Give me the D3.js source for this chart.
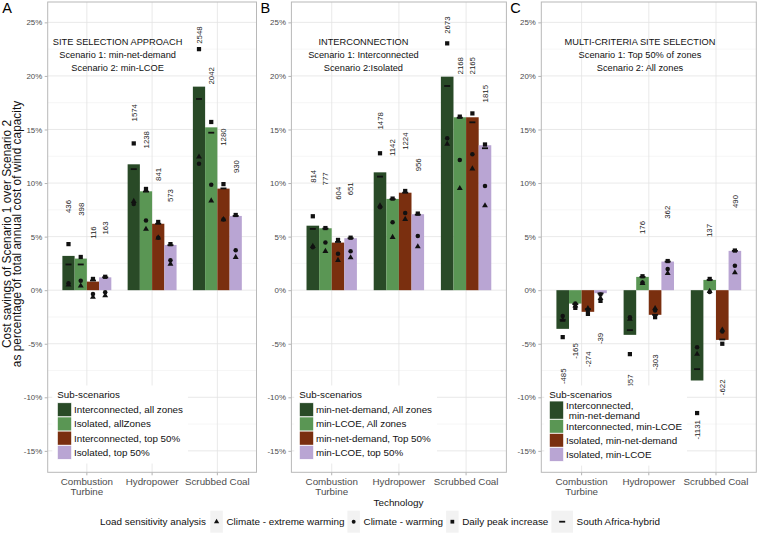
<!DOCTYPE html>
<html>
<head>
<meta charset="utf-8">
<script src="https://cdn.jsdelivr.net/npm/d3@7"></script>
<style>
  body { margin: 0; background: #fff; }
  text { font-family: "Liberation Sans", Arial, sans-serif; }
</style>
</head>
<body>
<svg id="chart" width="757" height="534"></svg>
<script>
// categories and ticks
const techs = ["Combustion Turbine", "Hydropower", "Scrubbed Coal"];
const techLabels = [["Combustion", "Turbine"], ["Hydropower"], ["Scrubbed Coal"]];
const yTicks = [-15, -10, -5, 0, 5, 10, 15, 20, 25];
const yMinor = [-12.5, -7.5, -2.5, 2.5, 7.5, 12.5, 17.5, 22.5];
const colors = ["#294a27", "#5a9654", "#7a2f0f", "#b9a5d3"];
const sensitivity = ["Climate - extreme warming", "Climate - warming", "Daily peak increase", "South Africa-hybrid"];

// panel A: site selection approach (rows = technology, cols = sub-scenario)
const seriesA = [["Interconnected, all zones"], ["Isolated, allZones"], ["Interconnected, top 50%"], ["Isolated, top 50%"]];
const titleA = ["SITE SELECTION APPROACH", "Scenario 1: min-net-demand", "Scenario 2: min-LCOE"];
const barsA = [[3.2, 2.95, 0.8, 1.2], [11.75, 9.23, 6.2, 4.22], [19.0, 15.2, 9.48, 6.93]];
const squareA = [[4.3, 3.1, 1.05, 1.25], [13.7, 9.45, 6.37, 4.3], [22.5, 15.7, 9.9, 7.02]];
const dashA = [[2.4, 2.4, 0.9, 1.2], [11.3, 9.2, 6.2, 4.2], [17.85, 14.7, 9.5, 6.93]];
const circleA = [[0.65, 0.87, -0.35, -0.2], [8.05, 6.5, 4.9, 2.8], [11.8, 9.85, 6.6, 3.73]];
const triangleA = [[0.5, 0.4, -0.65, -0.5], [8.3, 5.7, 4.9, 2.45], [12.45, 8.35, 6.6, 3.08]];
const labelsA = [[436, 398, 116, 163], [1574, 1238, 841, 573], [2548, 2042, 1280, 930]];

// panel B: interconnection
const seriesB = [["min-net-demand, All zones"], ["min-LCOE, All zones"], ["min-net-demand, Top 50%"], ["min-LCOE, top 50%"]];
const titleB = ["INTERCONNECTION", "Scenario 1: Interconnected", "Scenario 2:Isolated"];
const barsB = [[6.02, 5.78, 4.44, 4.85], [11.0, 8.52, 9.1, 7.09], [19.93, 16.14, 16.14, 13.53]];
const squareB = [[6.9, 5.8, 4.69, 4.9], [12.78, 8.55, 9.26, 7.15], [23.04, 16.2, 16.5, 13.6]];
const dashB = [[5.72, 5.75, 4.5, 4.85], [10.6, 8.5, 9.1, 7.05], [19.06, 16.1, 15.67, 13.25]];
const circleB = [[4.0, 4.44, 3.39, 3.64], [7.75, 6.34, 7.2, 5.06], [14.18, 12.15, 12.69, 9.73]];
const triangleB = [[4.1, 3.64, 2.8, 3.04], [7.9, 4.94, 6.62, 4.07], [13.65, 9.51, 11.34, 7.89]];
const labelsB = [[814, 777, 604, 651], [1478, 1142, 1224, 956], [2673, 2168, 2165, 1815]];

// panel C: multi-criteria site selection
const seriesC = [["Interconnected,", " min-net-demand"], ["Interconnected, min-LCOE"], ["Isolated, min-net-demand"], ["Isolated, min-LCOE"]];
const titleC = ["MULTI-CRITERIA SITE SELECTION", "Scenario 1: Top 50% of zones", "Scenario 2: All zones"];
const barsC = [[-3.61, -1.25, -2.02, -0.28], [-4.17, 1.24, -2.3, 2.67], [-8.43, 0.96, -4.64, 3.67]];
const squareC = [[-4.38, -1.65, -2.21, -1.0], [-5.97, 1.3, -2.52, 2.72], [-11.47, 1.05, -5.0, 3.7]];
const dashC = [[-2.77, -1.3, -1.77, -0.3], [-3.73, 1.24, -2.3, 2.67], [-7.37, 0.96, -4.6, 3.67]];
const circleC = [[-2.4, -1.25, -1.9, -0.4], [-2.52, 0.71, -1.9, 1.98], [-5.32, -0.16, -3.86, 2.27]];
const triangleC = [[-2.8, -1.45, -1.7, -0.75], [-2.7, 0.65, -1.7, 1.58], [-5.97, -0.1, -3.7, 1.64]];
const labelsC = [[-485, -165, -274, -39], [-557, 176, -303, 362], [-1131, 137, -622, 490]];

const svg = d3.select("#chart");
const y = d3.scaleLinear().domain([-17, 26.9]).range([472.3, 2]);

const panels = [
  { letter: "A", x0: 47.7, x1: 256.5, series: seriesA, title: titleA, titleAt: 0.335, bars: barsA,
    square: squareA, dash: dashA, circle: circleA, triangle: triangleA, labels: labelsA,
    legX: 57.3, keyTop: 402.7, keyH: [14.2, 14.2, 14.2, 14.2] },
  { letter: "B", x0: 291.4, x1: 506.4, series: seriesB, title: titleB, titleAt: 0.335, bars: barsB,
    square: squareB, dash: dashB, circle: circleB, triangle: triangleB, labels: labelsB,
    legX: 299.3, keyTop: 402.7, keyH: [14.2, 14.2, 14.2, 14.2] },
  { letter: "C", x0: 541.3, x1: 756.3, series: seriesC, title: titleC, titleAt: 0.459, bars: barsC,
    square: squareC, dash: dashC, circle: circleC, triangle: triangleC, labels: labelsC,
    legX: 549.3, keyTop: 401, keyH: [18.3, 14, 14, 14.3] }
];

function cells(m) {
  const out = [];
  m.forEach((row, t) => row.forEach((v, s) => out.push({ t, s, v })));
  return out;
}

function drawPanel(p) {
  const g = svg.append("g");
  const x = d3.scaleBand().domain(techs).range([p.x0, p.x1]).paddingInner(0).paddingOuter(0.1);
  const xs = d3.scaleBand().domain(d3.range(4)).range([-0.375 * x.step(), 0.375 * x.step()]);
  const cx = d => x(techs[d.t]) + x.bandwidth() / 2 + xs(d.s) + xs.bandwidth() / 2;

  // grid
  g.selectAll(".minor").data(yMinor).enter().append("line")
    .attr("x1", p.x0).attr("x2", p.x1).attr("y1", d => y(d)).attr("y2", d => y(d))
    .attr("stroke", "#ececec").attr("stroke-width", 0.5);
  g.selectAll(".major").data(yTicks).enter().append("line")
    .attr("x1", p.x0).attr("x2", p.x1).attr("y1", d => y(d)).attr("y2", d => y(d))
    .attr("stroke", "#e3e3e3").attr("stroke-width", 0.8);
  g.selectAll(".vmajor").data(techs).enter().append("line")
    .attr("x1", d => x(d) + x.bandwidth() / 2).attr("x2", d => x(d) + x.bandwidth() / 2)
    .attr("y1", y.range()[0]).attr("y2", y.range()[1])
    .attr("stroke", "#e3e3e3").attr("stroke-width", 0.8);

  // y axis
  const ya = g.append("g").attr("transform", `translate(${p.x0},0)`)
    .call(d3.axisLeft(y).tickValues(yTicks).tickSize(3).tickPadding(2.5).tickFormat(d => d + "%"));
  ya.select(".domain").remove();
  ya.selectAll("line").attr("stroke", "#b3b3b3");
  ya.selectAll("text").attr("fill", "#4d4d4d").style("font-size", "7.9px")
    .style("font-family", "'Liberation Sans', Arial, sans-serif");

  // x axis
  const xa = g.append("g").attr("transform", `translate(0,${y.range()[0]})`)
    .call(d3.axisBottom(x).tickSize(3).tickFormat(""));
  xa.select(".domain").remove();
  xa.selectAll("line").attr("stroke", "#b3b3b3");
  techs.forEach((t, i) => {
    const tx = g.append("text").attr("x", x(t) + x.bandwidth() / 2).attr("y", 485.2)
      .attr("text-anchor", "middle").attr("fill", "#4d4d4d").style("font-size", "9.8px");
    techLabels[i].forEach((ln, j) => tx.append("tspan")
      .attr("x", x(t) + x.bandwidth() / 2).attr("dy", j ? 10 : 0).text(ln));
  });

  // bars
  g.selectAll(".bar").data(cells(p.bars)).enter().append("rect")
    .attr("x", d => cx(d) - xs.bandwidth() / 2).attr("width", xs.bandwidth())
    .attr("y", d => y(Math.max(0, d.v))).attr("height", d => Math.abs(y(d.v) - y(0)))
    .attr("fill", d => colors[d.s]);

  // sensitivity points
  const sym = (type, size) => d3.symbol().type(type).size(size)();
  const ptLayers = [
    { m: p.triangle, path: sym(d3.symbolTriangle, 15) },
    { m: p.circle, path: sym(d3.symbolCircle, 16) },
    { m: p.square, path: sym(d3.symbolSquare, 18) }
  ];
  ptLayers.forEach(l => {
    g.selectAll(null).data(cells(l.m)).enter().append("path")
      .attr("d", l.path).attr("fill", "#111")
      .attr("transform", d => `translate(${cx(d)},${y(d.v)})`);
  });
  g.selectAll(".dash").data(cells(p.dash)).enter().append("rect")
    .attr("x", d => cx(d) - 3).attr("y", d => y(d.v) - 0.9)
    .attr("width", 6).attr("height", 1.8).attr("fill", "#111");

  // value labels
  g.selectAll(".lab").data(cells(p.labels)).enter().append("text")
    .attr("transform", d => {
      const v = p.bars[d.t][d.s];
      return `translate(${cx(d) + 2.8},${y(v >= 0 ? v + 4 : v - 3.7)}) rotate(-90)`;
    })
    .attr("text-anchor", d => d.v >= 0 ? "start" : "end")
    .attr("fill", "#222").style("font-size", "7.8px")
    .text(d => d.v);

  // panel border
  g.append("rect").attr("x", p.x0).attr("y", y.range()[1])
    .attr("width", p.x1 - p.x0).attr("height", y.range()[0] - y.range()[1])
    .attr("fill", "none").attr("stroke", "#b8b8b8").attr("stroke-width", 1);

  // annotation
  const ax = p.x0 + p.titleAt * (p.x1 - p.x0);
  p.title.forEach((ln, i) => g.append("text").attr("x", ax).attr("y", y(23.2) + i * 13.3)
    .attr("dy", "0.35em").attr("text-anchor", "middle").attr("fill", "#111")
    .style("font-size", "9.25px").text(ln));

  // sub-scenario legend
  const lg = g.append("g");
  const bg = lg.append("rect").attr("fill", "#fff");
  lg.append("text").attr("x", p.legX).attr("y", 394.3).attr("dy", "0.35em")
    .style("font-size", "9.8px").attr("fill", "#111").text("Sub-scenarios");
  let ky = p.keyTop, maxEnd = 0;
  p.series.forEach((lines, i) => {
    const h = p.keyH[i];
    lg.append("rect").attr("x", p.legX).attr("y", ky).attr("width", 14.4).attr("height", h)
      .attr("fill", colors[i]).attr("stroke", "#fff").attr("stroke-width", 0.8);
    lines.forEach((ln, j) => {
      const t = lg.append("text").attr("x", p.legX + 16.7)
        .attr("y", ky + h / 2 + (j - (lines.length - 1) / 2) * 10).attr("dy", "0.35em")
        .style("font-size", "9.8px").attr("fill", "#111").style("white-space", "pre").text(ln);
      maxEnd = Math.max(maxEnd, p.legX + 16.7 + t.node().getComputedTextLength());
    });
    ky += h;
  });
  bg.attr("x", p.legX - 5).attr("y", 385.5).attr("width", maxEnd - p.legX + 10).attr("height", ky - 385.5 + 4);

  // panel letter
  svg.append("text").attr("x", p.x0 - (p.letter === "A" ? 45.5 : 31)).attr("y", 13.3)
    .style("font-size", "14.5px").attr("fill", "#000").text(p.letter);
}

panels.forEach(drawPanel);

// y-axis title
const yt = svg.append("text").attr("transform", "translate(0,234) rotate(-90)")
  .attr("text-anchor", "middle").attr("fill", "#111").style("font-size", "11.9px");
yt.append("tspan").attr("x", 0).attr("y", 10.5).text("Cost savings of Scenario 1 over Scenario 2");
yt.append("tspan").attr("x", 0).attr("y", 21.2).text("as percentage of total annual cost of wind capacity");

// x-axis title
svg.append("text").attr("x", 398.5).attr("y", 502.7).attr("dy", "0.35em").attr("text-anchor", "middle")
  .attr("fill", "#111").style("font-size", "9.9px").text("Technology");

// bottom legend for load sensitivity shapes
const bl = svg.append("g");
const legY = 521.7;
let lx = 100;
const lt = bl.append("text").attr("x", lx).attr("y", legY).attr("dy", "0.35em")
  .style("font-size", "9.9px").attr("fill", "#111").text("Load sensitivity analysis");
lx += lt.node().getComputedTextLength() + 4.4;
const keyShapes = [
  d3.symbol().type(d3.symbolTriangle).size(12)(),
  d3.symbol().type(d3.symbolCircle).size(12)(),
  d3.symbol().type(d3.symbolSquare).size(14)(),
  null
];
sensitivity.forEach((name, i) => {
  const kw = i === 3 ? 21.6 : 12.5;
  bl.append("rect").attr("x", lx).attr("y", 510.7).attr("width", kw).attr("height", 22).attr("fill", "#f2f2f2");
  if (keyShapes[i]) {
    bl.append("path").attr("d", keyShapes[i]).attr("fill", "#111")
      .attr("transform", `translate(${lx + kw / 2},${legY})`);
  } else {
    bl.append("rect").attr("x", lx + kw / 2 - 3).attr("y", legY - 0.9).attr("width", 6).attr("height", 1.8).attr("fill", "#111");
  }
  lx += kw + 3.6;
  const t = bl.append("text").attr("x", lx).attr("y", legY).attr("dy", "0.35em")
    .style("font-size", "9.9px").attr("fill", "#111").text(name);
  lx += t.node().getComputedTextLength() + 3;
});
</script>
</body>
</html>
